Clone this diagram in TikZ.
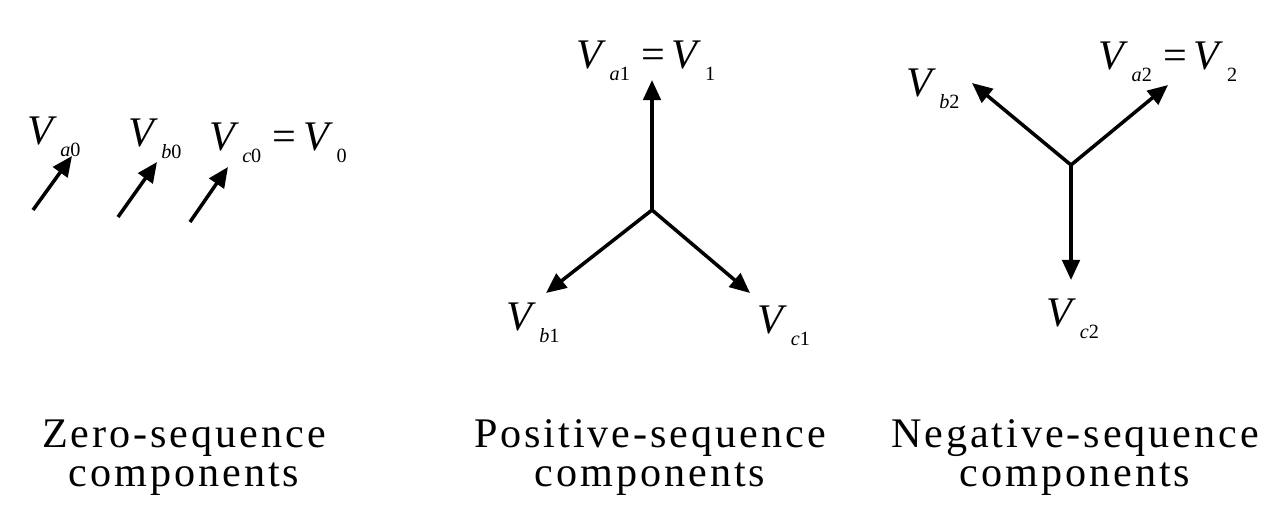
\documentclass[tikz,border=0pt]{standalone}
\usepackage{fontspec}
\setmainfont{Liberation Serif}
\usetikzlibrary{arrows.meta}
\newcommand{\vlab}[1]{\textit{V}\kern0.08em\raisebox{-0.28em}{\fontsize{11.5}{13}\selectfont #1}\kern0.1em}
\begin{document}
\begin{tikzpicture}[x=0.02cm,y=-0.02cm,
  vec/.style={line width=2pt,-{Triangle[length=11.5pt,width=10pt]}},
  lab/.style={inner sep=0pt,font=\fontsize{24}{26}\selectfont},
  captxt/.style={inner sep=0pt,anchor=base,font=\fontsize{24}{28}\selectfont\addfontfeature{LetterSpace=7}}]
\useasboundingbox (0,0) rectangle (1284,504);
% zero sequence
\coordinate (z1s) at (33,210); \coordinate (z1e) at (72,156);
\coordinate (z2s) at (118,217); \coordinate (z2e) at (157,162);
\coordinate (z3s) at (190,222); \coordinate (z3e) at (228,167);
\draw[vec] (z1s) -- (z1e);
\draw[vec] (z2s) -- (z2e);
\draw[vec] (z3s) -- (z3e);
\node[lab] (la0) at (56,137) {\vlab{\textit{a}0}};
\node[lab] (lb0) at (157,139) {\vlab{\textit{b}0}};
\node[lab] (lc0) at (280,143) {\vlab{\textit{c}0}\,=\,\vlab{0}};
% positive sequence
\coordinate (p0) at (652,210);
\coordinate (pa) at (652,80);
\coordinate (pb) at (546,293);
\coordinate (pc) at (750,293);
\draw[vec] (p0) -- (pa);
\draw[vec] (p0) -- (pb);
\draw[vec] (p0) -- (pc);
\node[lab] (la1) at (648,61) {\vlab{\textit{a}1}\,=\,\vlab{1}};
\node[lab] (lb1) at (535,323) {\vlab{\textit{b}1}};
\node[lab] (lc1) at (786,326) {\vlab{\textit{c}1}};
% negative sequence
\coordinate (n0) at (1071,165);
\coordinate (na) at (1168,85);
\coordinate (nb) at (972,83);
\coordinate (nc) at (1071,280);
\draw[vec] (n0) -- (na);
\draw[vec] (n0) -- (nb);
\draw[vec] (n0) -- (nc);
\node[lab] (la2) at (1170,62) {\vlab{\textit{a}2}\,=\,\vlab{2}};
\node[lab] (lb2) at (935,89) {\vlab{\textit{b}2}};
\node[lab] (lc2) at (1075,319) {\vlab{\textit{c}2}};
% captions
\node[captxt] (cz1) at (184,447) {Zero-sequence};
\node[captxt] (cz2) at (184,486) {components};
\node[captxt] (cp1) at (650,447) {Positive-sequence};
\node[captxt] (cp2) at (650,486) {components};
\node[captxt] (cn1) at (1075,447) {Negative-sequence};
\node[captxt] (cn2) at (1075,486) {components};
\end{tikzpicture}
\end{document}
